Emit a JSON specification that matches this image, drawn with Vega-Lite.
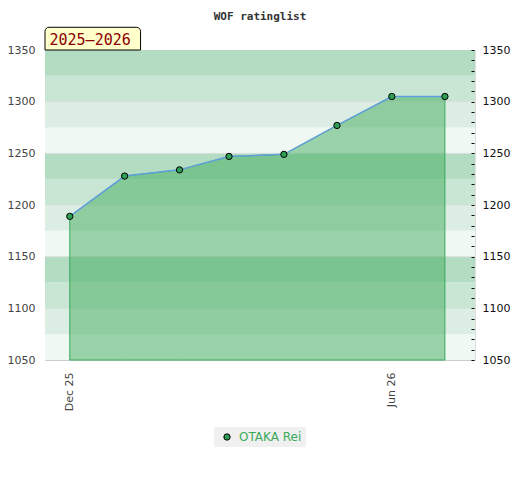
{
  "$schema": "https://vega.github.io/schema/vega-lite/v6.json",
  "autosize": "none",
  "width": 430,
  "height": 310,
  "padding": {"left": 45, "top": 50, "right": 45, "bottom": 120},
  "background": "white",
  "title": {
    "text": "WOF ratinglist",
    "font": "DejaVu Sans Mono",
    "fontSize": 11,
    "fontWeight": "bold",
    "color": "#333333",
    "anchor": "middle",
    "frame": "group",
    "offset": 5
  },
  "config": {
    "view": {"stroke": "#dddddd"},
    "axis": {"labelFont": "DejaVu Sans", "labelFontSize": 11}
  },
  "datasets": {
    "bands": [
      {"lo": 1050, "hi": 1075, "shade": "L4"},
      {"lo": 1075, "hi": 1100, "shade": "L3"},
      {"lo": 1100, "hi": 1125, "shade": "L2"},
      {"lo": 1125, "hi": 1150, "shade": "L1"},
      {"lo": 1150, "hi": 1175, "shade": "L4"},
      {"lo": 1175, "hi": 1200, "shade": "L3"},
      {"lo": 1200, "hi": 1225, "shade": "L2"},
      {"lo": 1225, "hi": 1250, "shade": "L1"},
      {"lo": 1250, "hi": 1275, "shade": "L4"},
      {"lo": 1275, "hi": 1300, "shade": "L3"},
      {"lo": 1300, "hi": 1325, "shade": "L2"},
      {"lo": 1325, "hi": 1350, "shade": "L1"}
    ],
    "series": [
      {"date": "2025-12-01", "rating": 1189, "player": "OTAKA Rei"},
      {"date": "2026-01-01", "rating": 1228, "player": "OTAKA Rei"},
      {"date": "2026-02-01", "rating": 1234, "player": "OTAKA Rei"},
      {"date": "2026-03-01", "rating": 1247, "player": "OTAKA Rei"},
      {"date": "2026-04-01", "rating": 1249, "player": "OTAKA Rei"},
      {"date": "2026-05-01", "rating": 1277, "player": "OTAKA Rei"},
      {"date": "2026-06-01", "rating": 1305, "player": "OTAKA Rei"},
      {"date": "2026-07-01", "rating": 1305, "player": "OTAKA Rei"}
    ],
    "season": [
      {"label": "2025–2026"}
    ]
  },
  "layer": [
    {
      "data": {"name": "bands"},
      "mark": {"type": "rect"},
      "encoding": {
        "y": {
          "field": "lo", "type": "quantitative",
          "scale": {"domain": [1050, 1350], "nice": false, "zero": false},
          "axis": {
            "orient": "left",
            "values": [1050, 1100, 1150, 1200, 1250, 1300, 1350],
            "format": "d",
            "title": null, "ticks": false, "grid": false,
            "domainColor": "#cccccc", "labelColor": "#444444",
            "labelPadding": 10
          }
        },
        "y2": {"field": "hi"},
        "fill": {
          "field": "shade", "type": "nominal",
          "scale": {"domain": ["L1", "L2", "L3", "L4"], "range": ["#b3dcc2", "#c8e6d3", "#dceee3", "#f0f8f3"]},
          "legend": null
        }
      }
    },
    {
      "data": {"name": "bands"},
      "transform": [{"filter": "datum.lo % 50 == 0 && datum.lo > 1050"}],
      "mark": {"type": "rule", "stroke": "#d9dfdb", "strokeWidth": 1},
      "encoding": {
        "y": {"field": "lo", "type": "quantitative", "scale": {"domain": [1050, 1350], "nice": false, "zero": false}, "axis": null}
      }
    },
    {
      "data": {"name": "series"},
      "mark": {"type": "area", "fill": "#41ab5d", "fillOpacity": 0.5, "stroke": "#3aaa5c", "strokeWidth": 1},
      "encoding": {
        "x": {
          "field": "date", "type": "temporal",
          "scale": {"type": "utc", "domain": [{"year": 2025, "month": 11, "date": 17, "utc": true}, {"year": 2026, "month": 7, "date": 18, "utc": true}]},
          "axis": {
            "title": null,
            "values": [{"year": 2025, "month": 12, "date": 1, "utc": true}, {"year": 2026, "month": 6, "date": 1, "utc": true}],
            "format": "%b %y", "labelAngle": -90, "ticks": false, "grid": false,
            "domainColor": "#cccccc", "labelColor": "#444444", "labelPadding": 12
          }
        },
        "y": {"field": "rating", "type": "quantitative", "scale": {"domain": [1050, 1350], "nice": false, "zero": false}, "axis": null},
        "y2": {"datum": 1050}
      }
    },
    {
      "data": {"name": "series"},
      "mark": {"type": "line", "stroke": "#62a0dc", "strokeWidth": 1.5},
      "encoding": {
        "x": {"field": "date", "type": "temporal"},
        "y": {
          "field": "rating", "type": "quantitative",
          "scale": {"domain": [1050, 1350], "nice": false, "zero": false},
          "axis": {
            "orient": "right", "title": null, "grid": false, "domain": false,
            "values": [1050,1060,1070,1080,1090,1100,1110,1120,1130,1140,1150,1160,1170,1180,1190,1200,1210,1220,1230,1240,1250,1260,1270,1280,1290,1300,1310,1320,1330,1340,1350],
            "format": "d",
            "labelExpr": "datum.value % 50 === 0 ? datum.label : ''",
            "offset": -4,
            "zindex": 1,
            "tickSize": 3, "tickColor": "#000000", "labelColor": "#111111",
            "labelPadding": 8
          }
        }
      }
    },
    {
      "data": {"name": "series"},
      "mark": {"type": "point", "filled": true, "shape": "circle", "size": 40, "stroke": "#000000", "strokeWidth": 1, "opacity": 1},
      "encoding": {
        "x": {"field": "date", "type": "temporal"},
        "y": {"field": "rating", "type": "quantitative", "scale": {"domain": [1050, 1350], "nice": false, "zero": false}, "axis": null},
        "color": {
          "field": "player", "type": "nominal",
          "scale": {"domain": ["OTAKA Rei"], "range": ["#2e9e57"]},
          "legend": {
            "title": null, "orient": "none", "legendX": 169, "legendY": 377,
            "fillColor": "#f0f0f0", "padding": 4,
            "labelColor": "#3aaa5c", "labelFont": "DejaVu Sans", "labelFontSize": 12,
            "symbolType": "circle", "symbolSize": 40, "symbolStrokeColor": "#000000", "symbolStrokeWidth": 1,
            "symbolOffset": 3, "labelOffset": 6
          }
        }
      }
    },
    {
      "data": {"name": "season"},
      "mark": {"type": "rect", "fill": "#ffffcc", "stroke": "#000000", "strokeWidth": 1, "cornerRadiusTopLeft": 4, "cornerRadiusTopRight": 4},
      "encoding": {
        "x": {"datum": {"year": 2025, "month": 11, "date": 17, "utc": true}, "type": "temporal"},
        "x2": {"datum": {"year": 2026, "month": 1, "date": 10, "utc": true}},
        "y": {"datum": 1350, "type": "quantitative", "scale": {"domain": [1050, 1350], "nice": false, "zero": false}, "axis": null},
        "y2": {"datum": 1372}
      }
    },
    {
      "data": {"name": "season"},
      "mark": {"type": "text", "font": "DejaVu Sans Mono", "fontSize": 15, "fill": "#8b0000", "align": "center", "baseline": "alphabetic"},
      "encoding": {
        "text": {"field": "label"},
        "x": {"datum": {"year": 2025, "month": 12, "date": 12, "hours": 12, "utc": true}, "type": "temporal"},
        "y": {"datum": 1355, "type": "quantitative", "scale": {"domain": [1050, 1350], "nice": false, "zero": false}, "axis": null}
      }
    }
  ],
  "resolve": {"axis": {"y": "independent"}, "scale": {"fill": "independent", "color": "independent"}}
}
